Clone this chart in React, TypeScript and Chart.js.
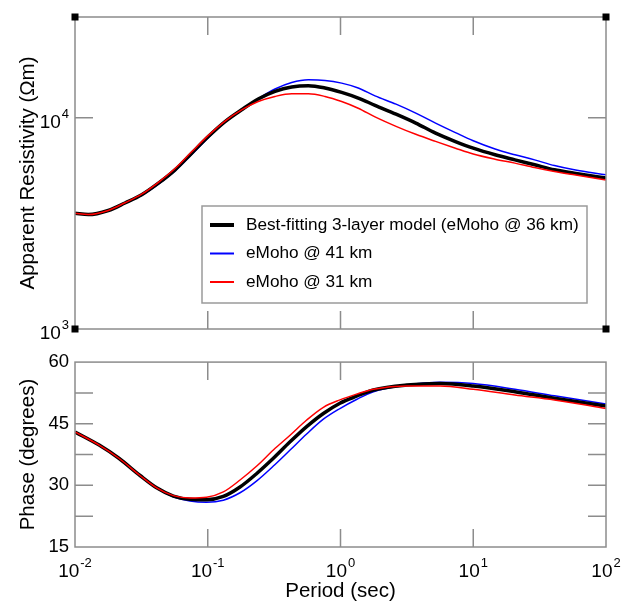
import React, { useEffect, useRef } from 'react';
import { Chart, registerables } from 'chart.js';

Chart.register(...registerables);

const FONT = '"Liberation Sans", Arial, Helvetica, sans-serif';

// ---- Data: apparent resistivity (Ohm-m) vs period (s) ----
const periodsRho = [0.01, 0.0126, 0.0178, 0.0238, 0.0318, 0.0425, 0.0567, 0.0757, 0.101, 0.135,
  0.18, 0.24, 0.321, 0.429, 0.573, 0.764, 1.02, 1.36, 1.82, 2.62,
  3.69, 5.2, 7.34, 10, 14.6, 20.6, 29, 40.9, 57.7, 100];
const rhoBest = [3530, 3480, 3640, 3950, 4320, 4900, 5670, 6800, 8150, 9590,
  10910, 12270, 13330, 13990, 14190, 13840, 13190, 12400, 11450, 10400,
  9440, 8460, 7720, 7180, 6680, 6320, 5990, 5670, 5470, 5180];
const rho41 = [3530, 3480, 3640, 3940, 4290, 4850, 5600, 6700, 8050, 9520,
  10900, 12300, 13680, 14690, 15130, 15030, 14590, 13840, 12700, 11600,
  10520, 9440, 8510, 7780, 7110, 6680, 6320, 5940, 5670, 5370];
const rho31 = [3530, 3480, 3640, 3960, 4350, 4950, 5750, 6900, 8250, 9650,
  10900, 11940, 12620, 13000, 13000, 12620, 11940, 11100, 10100, 9110,
  8350, 7730, 7180, 6740, 6370, 6100, 5810, 5570, 5370, 5080];

// ---- Data: phase (degrees) vs period (s) ----
const periodsPhase = [0.01, 0.0152, 0.0214, 0.0309, 0.0412, 0.0551, 0.0735, 0.098, 0.131, 0.175,
  0.234, 0.312, 0.417, 0.556, 0.743, 0.99, 1.32, 1.77, 3.15, 5.62,
  10, 20.6, 40.9, 100];
const phaseBest = [43.0, 39.8, 36.6, 32.4, 29.4, 27.4, 26.6, 26.5, 27.3, 29.6,
  32.9, 36.6, 40.6, 44.3, 47.5, 50.0, 51.7, 53.2, 54.4, 54.8,
  54.2, 52.8, 51.2, 49.3];
const phase41 = [43.0, 39.8, 36.6, 32.4, 29.3, 27.2, 26.2, 25.9, 26.4, 28.2,
  31.1, 34.7, 38.6, 42.5, 46.1, 48.7, 50.9, 52.8, 54.4, 55.1,
  54.8, 53.4, 51.8, 49.8];
const phase31 = [43.0, 39.8, 36.6, 32.4, 29.4, 27.5, 26.9, 27.1, 28.4, 31.3,
  34.7, 38.6, 42.2, 45.9, 49.0, 50.8, 52.2, 53.4, 54.2, 54.2,
  53.4, 52.0, 50.8, 48.7];

const seriesLabels = ['Best-fitting 3-layer model (eMoho @ 36 km)', 'eMoho @ 41 km', 'eMoho @ 31 km'];
const seriesColors = ['#000000', '#0000ff', '#ff0000'];
const seriesWidths = [3.5, 1.5, 1.5];
const seriesOrder = [1, 2, 0];

// ---- Ticks ----
const periodTicks = [0.01, 0.1, 1, 10, 100];
const periodTickExponents = ['-2', '-1', '0', '1', '2'];
const rhoTicks = [1000, 10000];
const rhoTickExponents = ['3', '4'];
const tickBase = '10';
const phaseTicks = [15, 30, 45, 60];
const phaseTickLabels = ['15', '30', '45', '60'];
const phaseMinorTicks = [22.5, 37.5, 52.5];

const BASE_SIZE = 19;
const EXP_SIZE = 13;

function makeDatasets(periods: number[], series: number[][]) {
  return series.map((vals, i) => ({
    label: seriesLabels[i],
    data: periods.map((p, j) => ({ x: p, y: vals[j] })),
    borderColor: seriesColors[i],
    backgroundColor: seriesColors[i],
    borderWidth: seriesWidths[i],
    pointRadius: 0,
    fill: false,
    cubicInterpolationMode: 'monotone' as const,
    order: seriesOrder[i],
  }));
}

function makeFramePlugin(cfg: { xTicks: number[]; yTicks: number[]; yMinor?: number[]; corners?: boolean }) {
  return {
    id: 'frameTicks',
    afterDatasetsDraw(chart: any) {
      const { ctx, chartArea: a, scales } = chart;
      const xs = scales.x;
      const ys = scales.y;
      const L = 18;
      ctx.save();
      ctx.strokeStyle = '#8c8c8c';
      ctx.lineWidth = 1.5;
      ctx.strokeRect(a.left, a.top, a.right - a.left, a.bottom - a.top);
      ctx.beginPath();
      cfg.xTicks.forEach((v) => {
        const px = xs.getPixelForValue(v);
        if (px <= a.left + 1 || px >= a.right - 1) return;
        ctx.moveTo(px, a.top);
        ctx.lineTo(px, a.top + L);
        ctx.moveTo(px, a.bottom);
        ctx.lineTo(px, a.bottom - L);
      });
      [...cfg.yTicks, ...(cfg.yMinor || [])].forEach((v) => {
        const py = ys.getPixelForValue(v);
        if (py <= a.top + 1 || py >= a.bottom - 1) return;
        ctx.moveTo(a.left, py);
        ctx.lineTo(a.left + L, py);
        ctx.moveTo(a.right, py);
        ctx.lineTo(a.right - L, py);
      });
      ctx.stroke();
      if (cfg.corners) {
        ctx.fillStyle = '#000';
        [[a.left, a.top], [a.right, a.top], [a.left, a.bottom], [a.right, a.bottom]].forEach(([cx, cy]) => {
          ctx.fillRect(cx - 3.5, cy - 3.5, 7, 7);
        });
      }
      ctx.restore();
    },
  };
}

// Power-of-ten tick labels (10 with a superscript exponent), placed with the library's scale.
function makePowerLabelPlugin(cfg: { axis: 'x' | 'y'; values: number[]; exps: string[] }) {
  return {
    id: 'powerLabels_' + cfg.axis,
    afterDraw(chart: any) {
      const { ctx, chartArea: a } = chart;
      const scale = chart.scales[cfg.axis];
      ctx.save();
      ctx.fillStyle = '#000';
      ctx.textBaseline = 'alphabetic';
      ctx.textAlign = 'left';
      cfg.values.forEach((v, i) => {
        const p = scale.getPixelForValue(v);
        ctx.font = `${BASE_SIZE}px ${FONT}`;
        const wb = ctx.measureText(tickBase).width;
        ctx.font = `${EXP_SIZE}px ${FONT}`;
        const we = ctx.measureText(cfg.exps[i]).width;
        const total = wb + 1 + we;
        let x0: number;
        let baseY: number;
        if (cfg.axis === 'x') {
          x0 = p - total / 2;
          baseY = a.bottom + 30;
        } else {
          x0 = a.left - 6 - total;
          baseY = p + 10;
        }
        ctx.font = `${BASE_SIZE}px ${FONT}`;
        ctx.fillText(tickBase, x0, baseY);
        ctx.font = `${EXP_SIZE}px ${FONT}`;
        ctx.fillText(cfg.exps[i], x0 + wb + 1, baseY - 10);
      });
      ctx.restore();
    },
  };
}

const insetLegendPlugin = {
  id: 'insetLegend',
  afterDraw(chart: any) {
    const ctx = chart.ctx;
    const bx = 202, by = 206, bw = 385, bh = 97;
    ctx.save();
    ctx.fillStyle = '#ffffff';
    ctx.fillRect(bx, by, bw, bh);
    ctx.strokeStyle = '#9a9a9a';
    ctx.lineWidth = 1.5;
    ctx.strokeRect(bx, by, bw, bh);
    ctx.font = `17.2px ${FONT}`;
    ctx.textBaseline = 'middle';
    ctx.textAlign = 'left';
    chart.data.datasets.forEach((ds: any, i: number) => {
      const y = by + 19 + i * 28.5;
      ctx.strokeStyle = ds.borderColor;
      ctx.lineWidth = i === 0 ? 4 : 2;
      ctx.beginPath();
      ctx.moveTo(bx + 8, y);
      ctx.lineTo(bx + 32, y);
      ctx.stroke();
      ctx.fillStyle = '#000';
      ctx.fillText(ds.label, bx + 44, y);
    });
    ctx.restore();
  },
};

const tickFont = { family: FONT, size: 18.5 };
const titleFont = { family: FONT, size: 20.5 };

export default function App() {
  const topRef = useRef<HTMLCanvasElement | null>(null);
  const botRef = useRef<HTMLCanvasElement | null>(null);

  useEffect(() => {
    if (!topRef.current || !botRef.current) return;

    const top = new Chart(topRef.current, {
      type: 'line',
      data: { datasets: makeDatasets(periodsRho, [rhoBest, rho41, rho31]) as any },
      options: {
        responsive: false,
        maintainAspectRatio: false,
        animation: false,
        devicePixelRatio: 1,
        layout: { padding: { left: 0, top: 17, right: 15, bottom: 0 } },
        plugins: { legend: { display: false }, tooltip: { enabled: false } },
        scales: {
          x: {
            type: 'logarithmic',
            min: 0.01,
            max: 100,
            ticks: { display: false },
            grid: { display: false, drawTicks: false },
            border: { display: false },
            afterFit: (s: any) => { s.height = 16; },
          },
          y: {
            type: 'logarithmic',
            min: 1000,
            max: 30000,
            afterBuildTicks: (s: any) => { s.ticks = rhoTicks.map((v) => ({ value: v })); },
            ticks: { display: false },
            grid: { display: false, drawTicks: false },
            border: { display: false },
            title: {
              display: true,
              text: 'Apparent Resistivity (\u03A9m)',
              font: titleFont,
              color: '#000',
              padding: { top: 16, bottom: 0 },
            },
            afterFit: (s: any) => { s.width = 75; },
          },
        },
      } as any,
      plugins: [
        makeFramePlugin({ xTicks: periodTicks, yTicks: rhoTicks, corners: true }),
        makePowerLabelPlugin({ axis: 'y', values: rhoTicks, exps: rhoTickExponents }),
        insetLegendPlugin,
      ],
    });

    const bot = new Chart(botRef.current, {
      type: 'line',
      data: { datasets: makeDatasets(periodsPhase, [phaseBest, phase41, phase31]) as any },
      options: {
        responsive: false,
        maintainAspectRatio: false,
        animation: false,
        devicePixelRatio: 1,
        layout: { padding: { left: 0, top: 17, right: 15, bottom: 0 } },
        plugins: { legend: { display: false }, tooltip: { enabled: false } },
        scales: {
          x: {
            type: 'logarithmic',
            min: 0.01,
            max: 100,
            afterBuildTicks: (s: any) => { s.ticks = periodTicks.map((v) => ({ value: v })); },
            ticks: { display: false },
            grid: { display: false, drawTicks: false },
            border: { display: false },
            title: {
              display: true,
              text: 'Period (sec)',
              font: titleFont,
              color: '#000',
              padding: { top: 0, bottom: 0 },
            },
            afterFit: (s: any) => { s.height = 57; },
          },
          y: {
            type: 'linear',
            min: 15,
            max: 60,
            afterBuildTicks: (s: any) => { s.ticks = phaseTicks.map((v) => ({ value: v })); },
            ticks: {
              callback: (_v: any, i: number) => phaseTickLabels[i],
              font: tickFont,
              color: '#000',
              padding: 6,
              autoSkip: false,
            },
            grid: { display: false, drawTicks: false },
            border: { display: false },
            title: {
              display: true,
              text: 'Phase (degrees)',
              font: titleFont,
              color: '#000',
              padding: { top: 16, bottom: 0 },
            },
            afterFit: (s: any) => { s.width = 75; },
          },
        },
      } as any,
      plugins: [
        makeFramePlugin({ xTicks: periodTicks, yTicks: phaseTicks, yMinor: phaseMinorTicks }),
        makePowerLabelPlugin({ axis: 'x', values: periodTicks, exps: periodTickExponents }),
      ],
    });

    return () => {
      top.destroy();
      bot.destroy();
    };
  }, []);

  return (
    <div style={{ position: 'absolute', left: 0, top: 0, width: 621, height: 604, background: '#fff', overflow: 'hidden' }}>
      <canvas ref={topRef} width={621} height={345} style={{ position: 'absolute', left: 0, top: 0, display: 'block' }} />
      <canvas ref={botRef} width={621} height={259} style={{ position: 'absolute', left: 0, top: 345, display: 'block' }} />
    </div>
  );
}
